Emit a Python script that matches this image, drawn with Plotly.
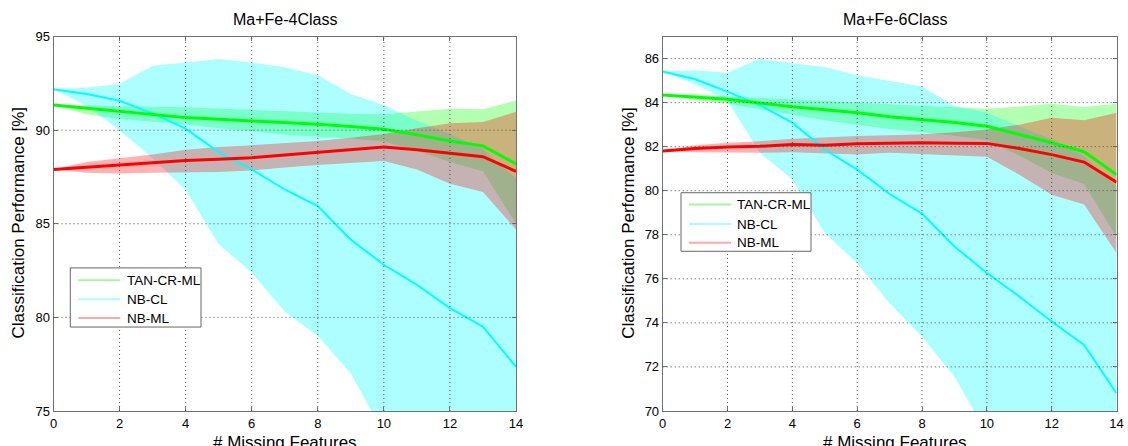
import plotly.graph_objects as go

# ---------------- data ----------------
x_missing = list(range(15))
series_names = ["TAN-CR-ML", "NB-CL", "NB-ML"]
panel_titles = ["Ma+Fe-4Class", "Ma+Fe-6Class"]
x_ticks = [0, 2, 4, 6, 8, 10, 12, 14]
y_ticks_4 = [75, 80, 85, 90, 95]
y_ticks_6 = [70, 72, 74, 76, 78, 80, 82, 84, 86]

# Ma+Fe-4Class
c4_tan_mean = [91.34, 91.17, 91.0, 90.85, 90.67, 90.58, 90.5, 90.4, 90.32, 90.2, 90.05, 89.75, 89.42, 89.16, 88.2]
c4_tan_upper = [91.34, 91.32, 91.28, 91.25, 91.22, 91.15, 91.1, 91.02, 90.95, 90.88, 90.85, 91.0, 91.15, 91.12, 91.57]
c4_tan_lower = [91.34, 90.85, 90.6, 90.45, 90.3, 90.1, 89.95, 89.75, 89.65, 89.55, 89.4, 88.9, 88.3, 87.8, 85.0]

c4_nbcl_mean = [92.19, 91.93, 91.57, 90.9, 90.08, 88.83, 87.9, 86.83, 85.94, 84.15, 82.81, 81.74, 80.49, 79.5, 77.36]
c4_nbcl_upper = [92.19, 92.28, 92.46, 93.44, 93.62, 93.8, 93.62, 93.36, 92.94, 91.93, 91.34, 90.5, 89.8, 89.0, 87.4]
c4_nbcl_lower = [92.19, 91.3, 90.0, 88.5, 86.8, 83.9, 82.4, 80.3, 79.0, 77.0, 73.8, 71.5, 69.0, 67.0, 64.0]

c4_nbml_mean = [87.9, 88.02, 88.12, 88.25, 88.38, 88.45, 88.53, 88.67, 88.8, 88.95, 89.1, 88.95, 88.76, 88.58, 87.8]
c4_nbml_upper = [87.9, 88.3, 88.5, 88.7, 88.95, 89.1, 89.2, 89.32, 89.42, 89.6, 89.8, 90.1, 90.37, 90.44, 90.98]
c4_nbml_lower = [87.9, 87.73, 87.69, 87.72, 87.76, 87.76, 87.85, 88.0, 88.14, 88.25, 88.35, 87.9, 87.14, 86.69, 84.69]

# Ma+Fe-6Class
c6_tan_mean = [84.35, 84.25, 84.15, 83.98, 83.81, 83.68, 83.54, 83.36, 83.24, 83.1, 82.93, 82.56, 82.18, 81.77, 80.73]
c6_tan_upper = [84.35, 84.38, 84.28, 84.22, 84.15, 84.08, 84.0, 83.93, 83.88, 83.8, 83.72, 83.82, 83.95, 83.8, 83.95]
c6_tan_lower = [84.35, 84.12, 83.95, 83.7, 83.45, 83.2, 83.0, 82.8, 82.65, 82.5, 82.3, 81.6, 80.8, 80.3, 77.9]

c6_nbcl_mean = [85.41, 85.06, 84.5, 83.88, 83.09, 81.87, 80.96, 79.85, 78.96, 77.47, 76.26, 75.2, 74.06, 73.0, 70.8]
c6_nbcl_upper = [85.41, 85.47, 85.36, 86.0, 85.79, 85.62, 85.24, 84.98, 84.73, 83.85, 83.54, 82.93, 82.33, 81.57, 80.2]
c6_nbcl_lower = [85.41, 84.83, 84.07, 81.72, 80.51, 78.08, 76.71, 74.89, 73.37, 71.55, 69.0, 67.0, 65.0, 63.0, 61.0]

c6_nbml_mean = [81.8, 81.92, 81.98, 82.02, 82.1, 82.07, 82.13, 82.16, 82.18, 82.16, 82.15, 81.92, 81.64, 81.3, 80.39]
c6_nbml_upper = [81.8, 82.07, 82.18, 82.25, 82.36, 82.43, 82.48, 82.52, 82.57, 82.66, 82.78, 83.0, 83.31, 83.2, 83.54]
c6_nbml_lower = [81.8, 81.75, 81.72, 81.72, 81.75, 81.69, 81.64, 81.72, 81.69, 81.6, 81.54, 80.73, 79.82, 79.37, 77.17]

# ---------------- styles / layout helpers ----------------
W, H = 1128, 446
# observed mapping of paper fractions to window pixels in the viewer
X_OFF, X_SPAN = 3.0, 1117.0
Y_OFF, Y_SPAN = 8.0, 430.0


def fx(px):
    """window pixel x -> paper fraction"""
    return (px - X_OFF) / X_SPAN


def fy(px):
    """window pixel y (from top) -> paper fraction"""
    return 1 - (px - Y_OFF) / Y_SPAN


line_colors = {"TAN-CR-ML": "#00ff00", "NB-CL": "#00ffff", "NB-ML": "#ff0000"}
fill_colors = {"TAN-CR-ML": "rgba(0,255,0,0.30)", "NB-CL": "rgba(0,255,255,0.32)", "NB-ML": "rgba(255,0,0,0.30)"}
legend_colors = {"TAN-CR-ML": "#a6f5a6", "NB-CL": "#aefcfc", "NB-ML": "#ffa8a8"}
line_widths = {"TAN-CR-ML": 3, "NB-CL": 2, "NB-ML": 3}
FONT = "Liberation Sans, Arial, Helvetica, sans-serif"

left_dom = [fx(52.5), fx(515.0)]
right_dom = [fx(661.7), min(0.996, fx(1125.5))]
y_dom = [fy(411.0), fy(37.5)]

panels = [
    {
        "xa": "x", "ya": "y", "left_px": 52.5, "right_px": 515.0, "title": panel_titles[0],
        "legend_box": (69.3, 268.3, 200.0, 327.3), "legend_rows": (280.7, 299.5, 318.3),
        "data": {
            "TAN-CR-ML": (c4_tan_mean, c4_tan_upper, c4_tan_lower),
            "NB-CL": (c4_nbcl_mean, c4_nbcl_upper, c4_nbcl_lower),
            "NB-ML": (c4_nbml_mean, c4_nbml_upper, c4_nbml_lower),
        },
    },
    {
        "xa": "x2", "ya": "y2", "left_px": 661.7, "right_px": 1125.5, "title": panel_titles[1],
        "legend_box": (680.0, 193.3, 810.0, 251.7), "legend_rows": (205.0, 224.5, 243.3),
        "data": {
            "TAN-CR-ML": (c6_tan_mean, c6_tan_upper, c6_tan_lower),
            "NB-CL": (c6_nbcl_mean, c6_nbcl_upper, c6_nbcl_lower),
            "NB-ML": (c6_nbml_mean, c6_nbml_upper, c6_nbml_lower),
        },
    },
]

fig = go.Figure()

for p in panels:
    for name in series_names:
        mean, up, lo = p["data"][name]
        fig.add_trace(go.Scatter(
            x=x_missing + x_missing[::-1], y=up + lo[::-1],
            fill="toself", fillcolor=fill_colors[name], mode="lines",
            line=dict(width=0, color=fill_colors[name]),
            xaxis=p["xa"], yaxis=p["ya"], showlegend=False, hoverinfo="skip",
        ))
    for name in ["NB-CL", "NB-ML", "TAN-CR-ML"]:
        mean, up, lo = p["data"][name]
        fig.add_trace(go.Scatter(
            x=x_missing, y=mean, mode="lines",
            line=dict(color=line_colors[name], width=line_widths[name]),
            xaxis=p["xa"], yaxis=p["ya"], showlegend=False, name=name,
        ))

AX_COLOR = "#707070"
x_common = dict(range=[0, 14], tickvals=x_ticks, showgrid=False, zeroline=False,
                showline=True, linecolor=AX_COLOR, linewidth=1, mirror="ticks",
                ticks="inside", ticklen=4, tickcolor=AX_COLOR, layer="above traces",
                ticklabelstandoff=0, ticklabeloverflow="allow",
                tickfont=dict(size=13, color="#000", family=FONT))
y_common = dict(showgrid=False, zeroline=False,
                showline=True, linecolor=AX_COLOR, linewidth=1, mirror="ticks",
                ticks="inside", ticklen=4, tickcolor=AX_COLOR, layer="above traces",
                tickfont=dict(size=13, color="#000", family=FONT))

fig.update_layout(
    width=W, height=H, margin=dict(l=0, r=0, t=0, b=0),
    paper_bgcolor="white", plot_bgcolor="white", showlegend=False,
    font=dict(family=FONT, color="#000"),
    xaxis=dict(domain=left_dom, anchor="y", **x_common),
    yaxis=dict(domain=y_dom, anchor="x", range=[75, 95], tickvals=y_ticks_4, **y_common),
    xaxis2=dict(domain=right_dom, anchor="y2", **x_common),
    yaxis2=dict(domain=y_dom, anchor="x2", range=[70, 87], tickvals=y_ticks_6, **y_common),
)

shapes = []
annotations = []
GRID = dict(color="#505050", width=1, dash="1px,3px")
for xa, ya, yt, yr in [("x", "y", y_ticks_4, [75, 95]), ("x2", "y2", y_ticks_6, [70, 87])]:
    for xv in x_ticks:
        if 0 < xv < 14:
            shapes.append(dict(type="line", xref=xa, yref=ya + " domain", x0=xv, x1=xv, y0=0, y1=1,
                               line=GRID, layer="above"))
    for yv in yt:
        if yr[0] < yv < yr[1]:
            shapes.append(dict(type="line", xref=xa + " domain", yref=ya, x0=0, x1=1, y0=yv, y1=yv,
                               line=GRID, layer="above"))

for p in panels:
    cx_px = (p["left_px"] + p["right_px"]) / 2
    annotations.append(dict(text=p["title"], x=fx(cx_px), y=fy(20.0), xref="paper", yref="paper",
                            showarrow=False, font=dict(size=16, family=FONT, color="#000"),
                            xanchor="center", yanchor="middle"))
    annotations.append(dict(text="# Missing Features", x=fx(cx_px), y=fy(442.0), xref="paper", yref="paper",
                            showarrow=False, font=dict(size=17, family=FONT, color="#000"),
                            xanchor="center", yanchor="middle"))
    annotations.append(dict(text="Classification Performance [%]", x=fx(p["left_px"] - 34.5),
                            y=fy(224.0), xref="paper", yref="paper", textangle=-90,
                            showarrow=False, font=dict(size=17, family=FONT, color="#000"),
                            xanchor="center", yanchor="middle"))
    bx0, by0, bx1, by1 = p["legend_box"]
    shapes.append(dict(type="rect", xref="paper", yref="paper",
                       x0=fx(bx0), x1=fx(bx1), y0=fy(by1), y1=fy(by0),
                       fillcolor="white", line=dict(color="#666", width=1), layer="above"))
    for name, ry in zip(series_names, p["legend_rows"]):
        shapes.append(dict(type="line", xref="paper", yref="paper",
                           x0=fx(bx0 + 8), x1=fx(bx0 + 50), y0=fy(ry), y1=fy(ry),
                           line=dict(color=legend_colors[name], width=2), layer="above"))
        annotations.append(dict(text=name, x=fx(bx0 + 54.5), y=fy(ry), xref="paper", yref="paper",
                                showarrow=False, font=dict(size=13.5, family=FONT, color="#000"),
                                xanchor="left", yanchor="middle"))

fig.update_layout(shapes=shapes, annotations=annotations)

fig.write_html("out.html")
